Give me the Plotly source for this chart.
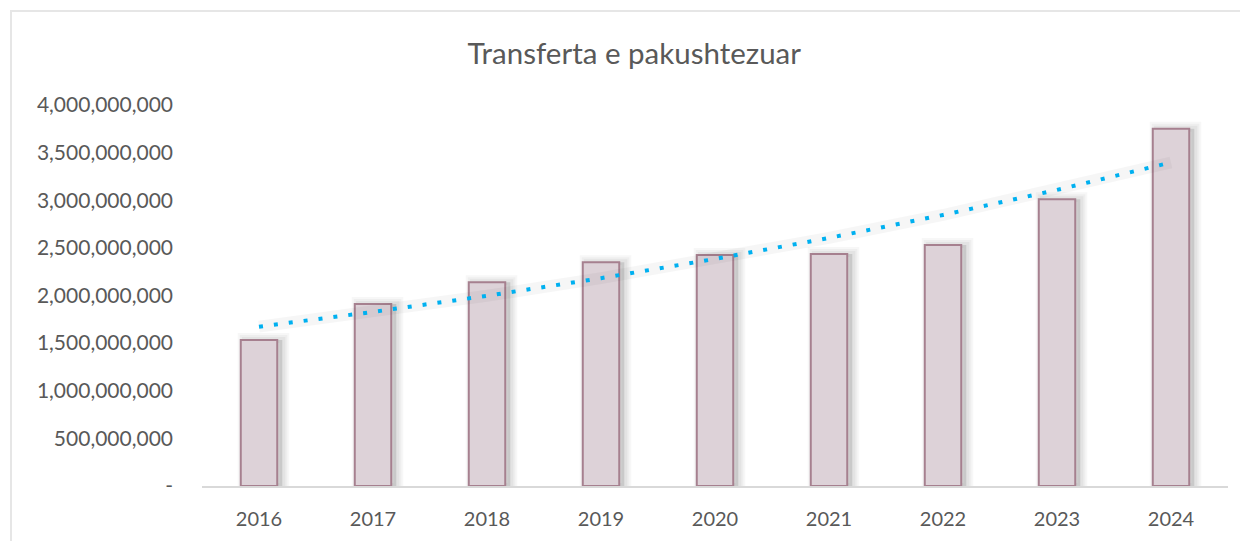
import numpy as np
import plotly.graph_objects as go

# ---- data ----
years = ["2016", "2017", "2018", "2019", "2020", "2021", "2022", "2023", "2024"]
values = [1.533e9, 1.911e9, 2.14e9, 2.35e9, 2.425e9, 2.435e9, 2.53e9, 3.01e9, 3.75e9]
tick_vals = [0, 5e8, 1e9, 1.5e9, 2e9, 2.5e9, 3e9, 3.5e9, 4e9]
tick_text = ["-" if v == 0 else f"{int(v):,}" for v in tick_vals]
title_text = "Transferta e pakushtezuar"

# exponential trendline fitted to the data (as the spreadsheet does)
xi = np.arange(len(values))
b, a = np.polyfit(xi, np.log(values), 1)
trend = np.exp(a + b * xi)

FONT = "Lato"
TXT = "#595959"

fig = go.Figure()

# soft shadow layers under bars
for w_line, alpha in [(14, 0.03), (10, 0.035), (6, 0.045)]:
    fig.add_trace(go.Bar(
        x=years, y=values, width=0.33, offset=-0.165 + 0.04,
        marker=dict(color=f"rgba(0,0,0,{alpha})",
                    line=dict(color=f"rgba(0,0,0,{alpha})", width=w_line)),
        hoverinfo="skip", showlegend=False))

# main bars
fig.add_trace(go.Bar(
    x=years, y=values, width=0.32,
    marker=dict(color="#DDD2D8", line=dict(color="#A6808F", width=2)),
    showlegend=False, name=title_text))

# trendline shadow
fig.add_trace(go.Scatter(
    x=years, y=trend, mode="lines",
    line=dict(color="rgba(0,0,0,0.035)", width=12),
    hoverinfo="skip", showlegend=False))
# trendline
fig.add_trace(go.Scatter(
    x=years, y=trend, mode="lines",
    line=dict(color="#00B0F0", width=4, dash="4px,11px"),
    showlegend=False, name="Trend"))

# page body has an 8px margin, so the figure is sized/offset accordingly
OFF = 8
W, H = 1248 - OFF, 541 - OFF
L, R, T, B = 202 - OFF, 20, 105 - OFF, 55
pw, ph = W - L - R, H - T - B
x0 = (3 - L) / pw
y0 = (H - B - 3) / ph
fig.add_shape(type="path", xref="paper", yref="paper",
              path=f"M {x0} -0.3 L {x0} {y0} L 1.1 {y0}",
              line=dict(color="#E6E6E6", width=2), layer="above")

fig.update_layout(
    width=W, height=H,
    margin=dict(l=L, r=R, t=T, b=B),
    paper_bgcolor="white", plot_bgcolor="white",
    barmode="overlay",
    font=dict(family=FONT, color=TXT),
    title=dict(text=title_text, x=0.505, xanchor="center", y=0.914, yanchor="middle",
               font=dict(family=FONT, size=29.5, color=TXT)),
    xaxis=dict(showgrid=False, showline=True, linecolor="#D9D9D9", linewidth=2,
               ticks="", tickfont=dict(size=20, color=TXT), ticklabelstandoff=14),
    yaxis=dict(range=[0, 4e9], showgrid=False, zeroline=False, showline=False,
               tickvals=tick_vals, ticktext=tick_text, ticks="",
               tickfont=dict(size=21, color=TXT), ticklabelstandoff=28),
)

fig.write_html("out.html")
